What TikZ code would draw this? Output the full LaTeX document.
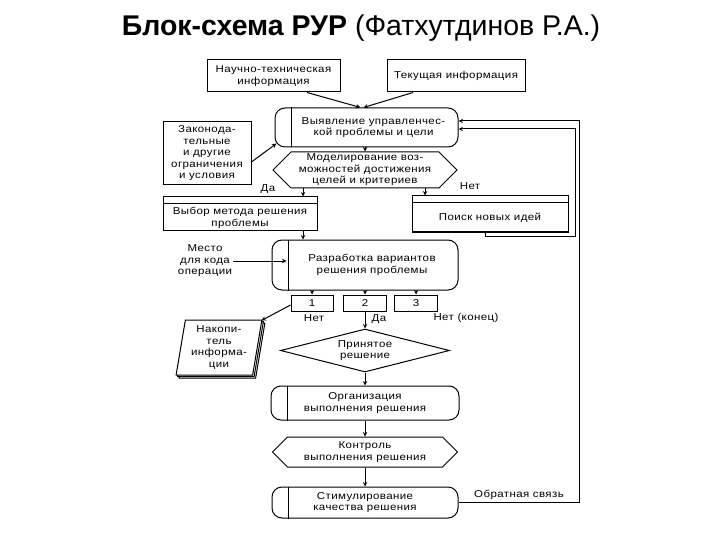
\documentclass[tikz,border=0pt]{standalone}
\usepackage{fontspec}
\setmainfont{Liberation Sans}
\newfontfamily\boxfont{Liberation Sans}[FakeStretch=1.15,LetterSpace=4]
\usetikzlibrary{shapes.geometric,shapes.symbols,shadows}
\tikzstyle{block}=[draw, line width=1pt, fill=white, inner sep=1pt, align=center,
  font=\boxfont\fontsize{10}{11.5}\selectfont]
\tikzstyle{rblock}=[block, rounded corners=10pt]
\tikzstyle{hblock}=[block]
\tikzstyle{hexa}=[block, signal, signal to=west and east]
\tikzstyle{dia}=[block, diamond, aspect=4, inner sep=0pt]
\tikzstyle{stack}=[block, trapezium, trapezium left angle=80, trapezium right
  angle=100, trapezium stretches=true, double copy shadow={shadow xshift=1.5pt,
  shadow yshift=-1.5pt}]
\tikzstyle{lbl}=[inner sep=1pt, align=center, font=\boxfont\fontsize{10}{11.5}\selectfont]
\tikzstyle{arr}=[->, line width=1pt]
% text moved right of the inner line / below the header line
\newcommand{\rightpart}[1]{\begin{tabular}{@{\hspace{14pt}}c@{}}#1\end{tabular}}
\newcommand{\lowpart}[1]{\raisebox{-4pt}[\height][\depth]{\begin{tabular}{@{}c@{}}#1\end{tabular}}}

\begin{document}
\begin{tikzpicture}[>=stealth, x=1pt, y=-1pt]
  \useasboundingbox (0,0) rectangle (720,540);
  \node (title) at (361,28) {\fontsize{28.5}{31}\selectfont\textbf{Блок-схема РУР}
    (Фатхутдинов Р.А.)};

  % inputs
  \node[block, minimum width=133pt, minimum height=32pt] (nti) at (273.5,76)
    {Научно-техническая\\информация};
  \node[block, minimum width=138pt, minimum height=32pt] (cur) at (456,76)
    {Текущая информация};
  \node[block, minimum width=88pt, minimum height=63pt] (zak) at (207,153.5)
    {Законода-\\тельные\\и другие\\ограничения\\и условия};

  % main chain
  \node[rblock, minimum width=183pt, minimum height=39pt] (vyy) at (366.5,127.5)
    {\rightpart{Выявление управленчес-\\кой проблемы и цели}};
  \node[hexa, minimum width=184pt, minimum height=36pt] (mod) at (365,170)
    {Моделирование воз-\\можностей достижения\\целей и критериев};
  \node[hblock, minimum width=154pt, minimum height=34pt] (vyb) at (240,214)
    {\lowpart{Выбор метода решения\\проблемы}};
  \node[hblock, minimum width=156pt, minimum height=36pt] (poi) at (490,214)
    {\lowpart{Поиск новых идей}};
  \node[rblock, minimum width=186pt, minimum height=50pt] (razr) at (365,265)
    {\rightpart{Разработка вариантов\\решения проблемы}};
  \node[block, minimum width=42pt, minimum height=16pt] (b1) at (312,303) {1};
  \node[block, minimum width=43pt, minimum height=16pt] (b2) at (365,303) {2};
  \node[block, minimum width=43pt, minimum height=16pt] (b3) at (416,303) {3};
  \node[stack, minimum width=86pt, minimum height=55pt] (nak) at (219,347.5)
    {Накопи-\\тель\\информа-\\ции};
  \node[dia, minimum width=169pt, minimum height=43pt] (prin) at (365,350.5)
    {Принятое\\решение};
  \node[rblock, minimum width=188pt, minimum height=34pt] (org) at (365,403)
    {Организация\\выполнения решения};
  \node[hexa, minimum width=185pt, minimum height=30pt] (ctrl) at (365,452)
    {Контроль\\выполнения решения};
  \node[rblock, minimum width=186pt, minimum height=31pt] (stim) at (365,502.5)
    {Стимулирование\\качества решения};

  % labels
  \node[lbl] (da1) at (268,189) {Да};
  \node[lbl] (net1) at (470,186) {Нет};
  \node[lbl] (mesto) at (205,261) {Место\\для кода\\операции};
  \node[lbl] (net2) at (314,318) {Нет};
  \node[lbl] (da2) at (379,319) {Да};
  \node[lbl] (net3) at (466,318) {Нет (конец)};
  \node[lbl] (fbtext) at (519,495) {Обратная связь};

  \foreach \n in {vyy,razr,org,stim}
    \draw[line width=1pt] ([xshift=17pt]\n.north west) -- ([xshift=17pt]\n.south west);
  \foreach \n in {vyb,poi}
    \draw[line width=1pt] ([yshift=-7pt]\n.north west) -- ([yshift=-7pt]\n.north east);

  \coordinate (razrin) at ([xshift=15pt]razr.west);
  \coordinate (fbin) at (575,236);
  \coordinate (fbout) at (579,121);

  \draw[arr] ([xshift=33.5pt]nti.south) -- ([xshift=-6pt]vyy.north);
  \draw[arr] ([xshift=-43pt]cur.south) -- ([xshift=-3pt]vyy.north);
  \draw[arr] ([yshift=-8.5pt]zak.east) -- ([xshift=2pt,yshift=4pt]vyy.south west);
  \draw[arr] (vyy.south -| mod.north) -- (mod.north);
  \draw[arr] ([xshift=-62pt]mod.south) -- ([xshift=63pt]vyb.north);
  \draw[arr] ([xshift=60pt]mod.south) -- ([xshift=-65pt]poi.north);
  \draw[arr] ([xshift=63pt]vyb.south) -- ([xshift=-62pt]razr.north);
  \draw[arr] (mesto.east) -- (mesto.east -| razrin);
  \foreach \b in {b1,b2,b3}
    \draw[arr] (razr.south -| \b.north) -- (\b.north);
  \draw[arr] ([yshift=-2pt]b1.west) -- ([xshift=-1pt,yshift=-1pt]nak.top right corner);
  \draw[arr] (b2.south) -- (prin.north);
  \draw[arr] (prin.south) -- (org.north);
  \draw[arr] (org.south) -- (ctrl.north);
  \draw[arr] (ctrl.south) -- (stim.north);

  % feedback
  \draw[arr] ([xshift=-5pt]poi.south) |- (fbin) |- ([yshift=-1.5pt]vyy.east);
  \draw[arr] (stim.east) -| (fbout) -- ([yshift=6.5pt]vyy.east);
\end{tikzpicture}
\end{document}
